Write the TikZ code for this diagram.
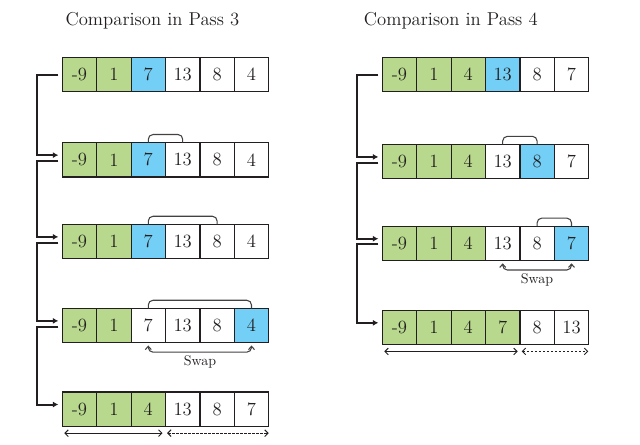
\documentclass[tikz,border=0pt]{standalone}
\usetikzlibrary{arrows.meta}
\definecolor{gr}{RGB}{184,217,141}
\definecolor{bl}{RGB}{115,207,245}
\definecolor{ink}{RGB}{35,31,32}
\tikzset{
 cell/.style={draw=ink, line width=0.9pt, minimum width=25.8pt, minimum height=25.9pt, inner sep=0pt, outer sep=0pt, font=\fontsize{14}{16}\selectfont, text=ink},
 conn/.style={draw=ink, line width=1.5pt, -{Latex[length=4pt,width=4.5pt]}},
 brk/.style={draw=ink!85, line width=0.8pt, rounded corners=3.5pt},
 swp/.style={draw=ink!85, line width=0.8pt, rounded corners=3.5pt, {Straight Barb[length=2.5pt,width=4.5pt]}-{Straight Barb[length=2.5pt,width=4.5pt]}},
 rng/.style={draw=ink, line width=0.7pt, {Straight Barb[length=2.5pt,width=5pt]}-{Straight Barb[length=2.5pt,width=5pt]}},
 dsh/.style={rng, dash pattern=on 1.8pt off 1.2pt},
 title/.style={font=\fontsize{14}{16}\selectfont, text=ink},
 swaplbl/.style={font=\fontsize{10.5}{12}\selectfont, text=ink, inner sep=1pt},
}
\begin{document}
\begin{tikzpicture}[x=0.75pt,y=-0.75pt]
\useasboundingbox (0,0) rectangle (640,445);

% titles
\node[title] (t1) at (152.5,21) {Comparison in Pass 3};
\node[title] (t2) at (450.8,21) {Comparison in Pass 4};

% left rows
\foreach \v/\f [count=\i] in {-9/gr,1/gr,7/bl,13/white,8/white,4/white}
  \node[cell,fill=\f] (La\i) at ({62.3+34.4*(\i-0.5)},74.55) {\v};
\foreach \v/\f [count=\i] in {-9/gr,1/gr,7/bl,13/white,8/white,4/white}
  \node[cell,fill=\f] (Lb\i) at ({62.3+34.4*(\i-0.5)},159.8) {\v};
\foreach \v/\f [count=\i] in {-9/gr,1/gr,7/bl,13/white,8/white,4/white}
  \node[cell,fill=\f] (Lc\i) at ({62.3+34.4*(\i-0.5)},241.55) {\v};
\foreach \v/\f [count=\i] in {-9/gr,1/gr,7/white,13/white,8/white,4/bl}
  \node[cell,fill=\f] (Ld\i) at ({62.3+34.4*(\i-0.5)},325.55) {\v};
\foreach \v/\f [count=\i] in {-9/gr,1/gr,4/gr,13/white,8/white,7/white}
  \node[cell,fill=\f] (Le\i) at ({62.3+34.4*(\i-0.5)},409.2) {\v};

% right rows
\foreach \v/\f [count=\i] in {-9/gr,1/gr,4/gr,13/bl,8/white,7/white}
  \node[cell,fill=\f] (Ra\i) at ({382.3+34.4*(\i-0.5)},74.55) {\v};
\foreach \v/\f [count=\i] in {-9/gr,1/gr,4/gr,13/white,8/bl,7/white}
  \node[cell,fill=\f] (Rb\i) at ({382.3+34.4*(\i-0.5)},161.6) {\v};
\foreach \v/\f [count=\i] in {-9/gr,1/gr,4/gr,13/white,8/white,7/bl}
  \node[cell,fill=\f] (Rc\i) at ({382.3+34.4*(\i-0.5)},243.4) {\v};
\foreach \v/\f [count=\i] in {-9/gr,1/gr,4/gr,7/gr,8/white,13/white}
  \node[cell,fill=\f] (Rd\i) at ({382.3+34.4*(\i-0.5)},327.5) {\v};

% left connectors
\draw[conn] ([xshift=-3pt]La1.west) -- ++(-16.2pt,0) |- ([xshift=-3pt,yshift=3.5pt]Lb1.west);
\draw[conn] ([xshift=-3pt,yshift=-0.75pt]Lb1.west) -- ++(-16.2pt,0) |- ([xshift=-3pt,yshift=3.5pt]Lc1.west);
\draw[conn] ([xshift=-3pt,yshift=-0.75pt]Lc1.west) -- ++(-16.2pt,0) |- ([xshift=-3pt,yshift=3.5pt]Ld1.west);
\draw[conn] ([xshift=-3pt,yshift=-0.75pt]Ld1.west) -- ++(-16.2pt,0) |- ([xshift=-3pt,yshift=3.5pt]Le1.west);

% right connectors
\draw[conn] ([xshift=-3pt]Ra1.west) -- ++(-16.2pt,0) |- ([xshift=-3pt,yshift=3.5pt]Rb1.west);
\draw[conn] ([xshift=-3pt,yshift=-0.75pt]Rb1.west) -- ++(-16.2pt,0) |- ([xshift=-3pt,yshift=3.5pt]Rc1.west);
\draw[conn] ([xshift=-3pt,yshift=-0.75pt]Rc1.west) -- ++(-16.2pt,0) |- ([xshift=-3pt,yshift=3.5pt]Rd1.west);

% comparison brackets
\draw[brk] (Lb3.north) -- ++(0,6pt) -| (Lb4.north);
\draw[brk] (Lc3.north) -- ++(0,6pt) -| (Lc5.north);
\draw[brk] (Ld3.north) -- ++(0,6pt) -| (Ld6.north);
\draw[brk] (Rb4.north) -- ++(0,6pt) -| (Rb5.north);
\draw[brk] (Rc5.north) -- ++(0,6pt) -| (Rc6.north);

% swaps
\draw[swp] ([yshift=-2pt]Ld3.south) -- ++(0,-5pt) -| node[pos=0.25, below=1pt, swaplbl] (swapL) {Swap} ([yshift=-2pt]Ld6.south);
\draw[swp] ([yshift=-2pt]Rc4.south) -- ++(0,-5pt) -| node[pos=0.25, below=1pt, swaplbl] (swapR) {Swap} ([yshift=-2pt]Rc6.south);

% sorted / unsorted ranges
\draw[rng] ([xshift=1.5pt,yshift=-5pt]Le1.south west) -- ([xshift=-2.25pt,yshift=-5pt]Le3.south east);
\draw[dsh] ([xshift=1.2pt,yshift=-5pt]Le4.south west) -- ([yshift=-5pt]Le6.south east);
\draw[rng] ([xshift=1.5pt,yshift=-5pt]Rd1.south west) -- ([xshift=-1.65pt,yshift=-5pt]Rd4.south east);
\draw[dsh] ([xshift=1.35pt,yshift=-5pt]Rd5.south west) -- ([xshift=-0.3pt,yshift=-5pt]Rd6.south east);
\end{tikzpicture}
\end{document}
